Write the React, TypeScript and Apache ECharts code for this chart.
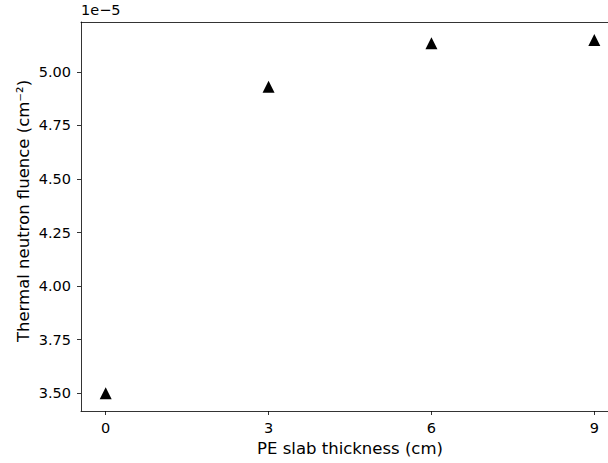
import React, { useEffect, useRef } from "react";
import * as echarts from "echarts";

// PE slab thickness (cm)
const thickness = [0, 3, 6, 9];
// Thermal neutron fluence, in units of 1e-5 cm^-2
const fluence = [3.5, 4.93, 5.133, 5.149];
const xTicks = [0, 3, 6, 9];
const yTicks = [3.5, 3.75, 4.0, 4.25, 4.5, 4.75, 5.0];
const offsetText = "1e\u22125";
const yTitle = "Thermal neutron fluence (cm\u207B\u00B2)";

const FONT = "DejaVu Sans";

export default function App() {
  const ref = useRef<HTMLDivElement>(null);
  useEffect(() => {
    if (!ref.current) return;
    const chart = echarts.init(ref.current, null, { renderer: "svg" });
    const line = { color: "#000", width: 0.8 };
    chart.setOption({
      animation: false,
      backgroundColor: "#fff",
      grid: {
        left: 81,
        top: 22,
        right: 0,
        bottom: 52,
        show: false,
      },
      graphic: [
        {
          type: "text",
          left: 81,
          top: 2,
          style: { text: offsetText, font: `14.5px '${FONT}'`, fill: "#000" },
        },
        {
          type: "text",
          x: 23.5,
          y: 211,
          rotation: Math.PI / 2,
          style: {
            text: yTitle,
            font: `16.5px '${FONT}'`,
            fill: "#000",
            align: "center",
            verticalAlign: "middle",
          },
        },
      ],
      xAxis: [
        {
          type: "value",
          min: -0.455,
          max: 9.252,
          name: "PE slab thickness (cm)",
          nameLocation: "middle",
          nameGap: 29,
          nameTextStyle: { fontFamily: FONT, fontSize: 16.5, color: "#000", padding: [0, 0, 0, 11] },
          axisLine: { show: true, onZero: false, lineStyle: line },
          axisTick: { show: true, length: 4, customValues: xTicks, lineStyle: line },
          axisLabel: {
            customValues: xTicks,
            margin: 9,
            fontFamily: FONT,
            fontSize: 14.5,
            color: "#000",
          },
          splitLine: { show: false },
        },
        {
          type: "value",
          position: "top",
          min: -0.455,
          max: 9.252,
          axisLine: { show: true, onZero: false, lineStyle: line },
          axisTick: { show: false },
          axisLabel: { show: false },
          splitLine: { show: false },
        },
      ],
      yAxis: {
        type: "value",
        min: 3.4175,
        max: 5.2325,
        axisLine: { show: true, onZero: false, lineStyle: line },
        axisTick: { show: true, length: 4, customValues: yTicks, lineStyle: line },
        axisLabel: {
          customValues: yTicks,
          margin: 10,
          fontFamily: FONT,
          fontSize: 14.5,
          color: "#000",
          formatter: (v: number) => v.toFixed(2),
        },
        splitLine: { show: false },
      },
      series: [
        {
          type: "scatter",
          xAxisIndex: 0,
          symbol: "triangle",
          symbolSize: 12,
          itemStyle: { color: "#000", opacity: 1 },
          data: thickness.map((t, i) => [t, fluence[i]]),
        },
      ],
    });
    return () => chart.dispose();
  }, []);
  return <div ref={ref} style={{ width: 608, height: 463, position: "absolute", left: 0, top: 0 }} />;
}
